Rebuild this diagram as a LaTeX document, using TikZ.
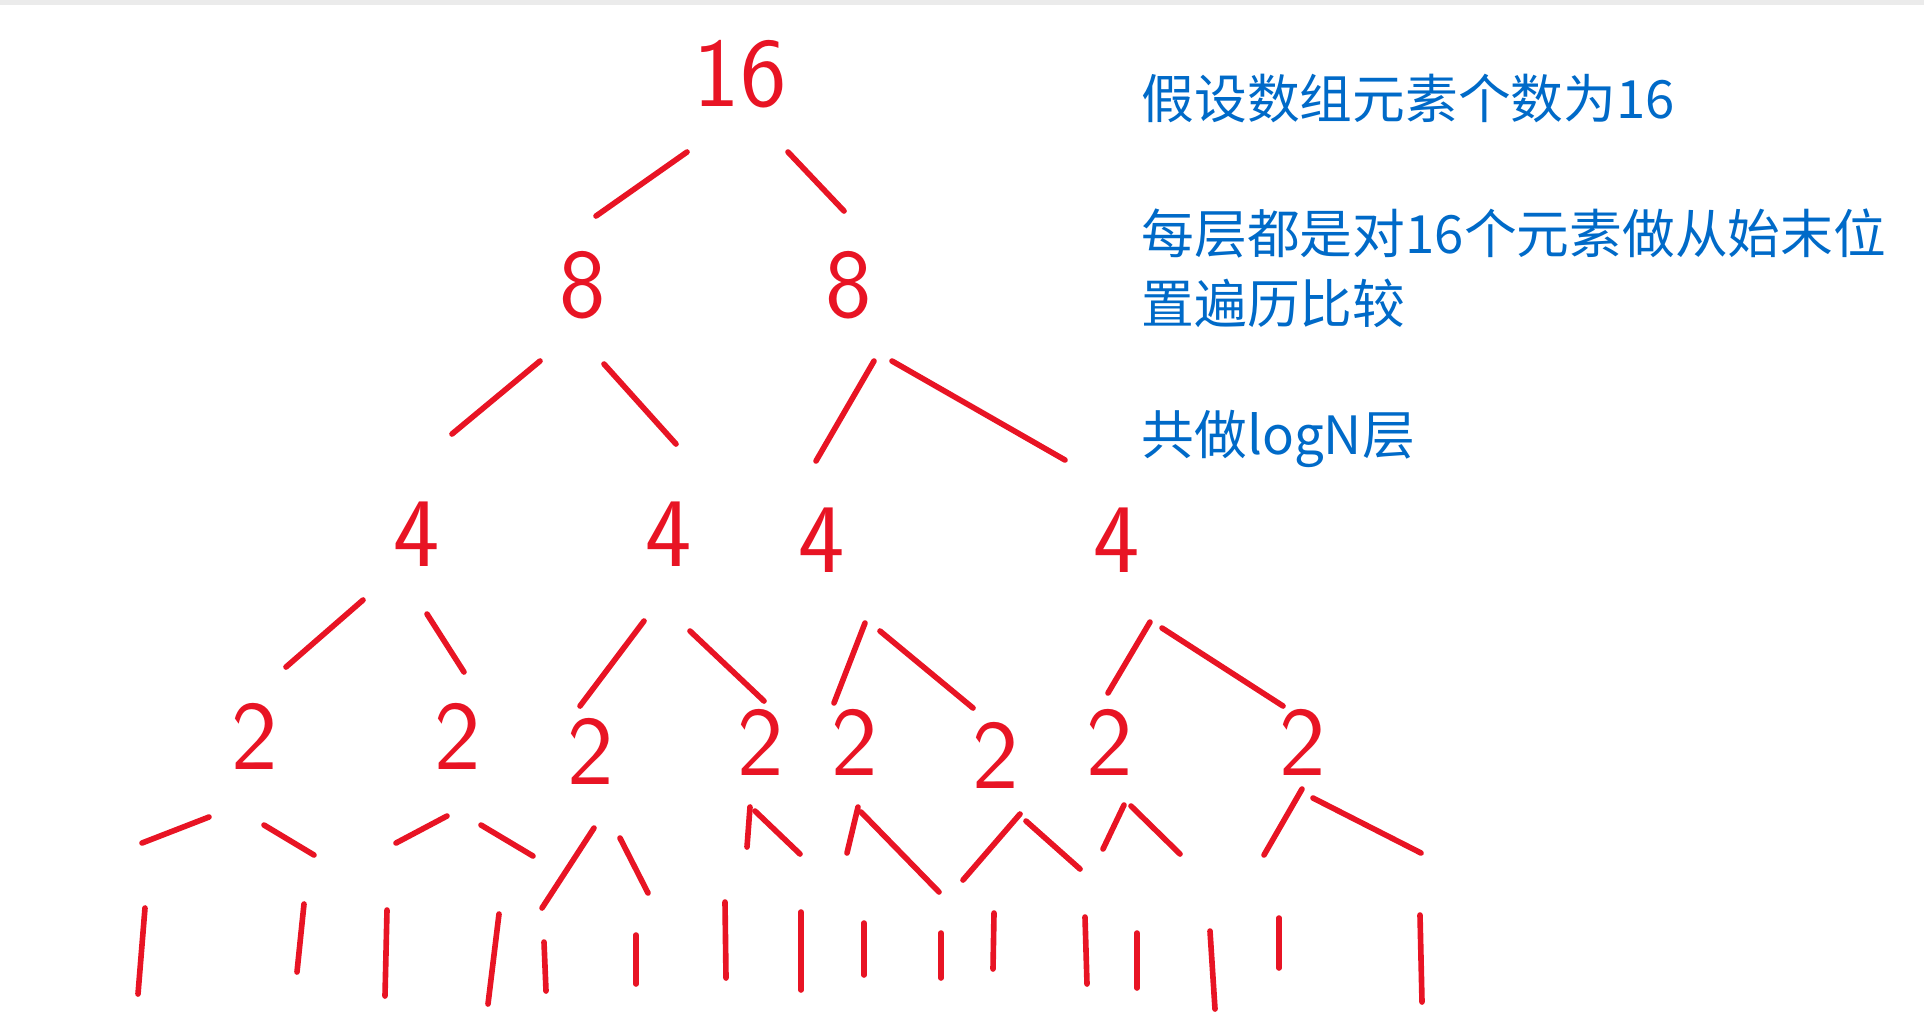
\documentclass[tikz,border=0pt]{standalone}
\usepackage{fontspec}
\usepackage{tikz}
\usetikzlibrary{calc}
\newfontfamily\cjk{Noto Sans CJK SC}
\definecolor{pen}{RGB}{232,20,36}
\definecolor{note}{RGB}{0,106,200}
\tikzset{
  num/.style={text=pen, inner sep=0pt, font=\sffamily\fontsize{28}{30}\selectfont},
  stroke/.style={draw=pen, line width=1.6pt, line cap=round, line join=round},
  remark/.style={text=note, inner sep=0pt, anchor=west, align=left,
    font=\cjk\fontsize{15}{20}\selectfont}
}

\begin{document}
\begin{tikzpicture}[x=0.01cm, y=-0.01cm]
			%%%%% START %%%%%
			\useasboundingbox (0, 0) rectangle (1924, 1032);
			\draw[black!8, line width=2pt] (0, 1) -- (1924, 1);
			
			% numbers
			\node[num] (n16) at (740, 74) {16};
			\node[num] (n8a) at (583, 285) {8};
			\node[num] (n8b) at (849, 285) {8};
			\node[num] (n4a) at (417, 534) {4};
			\node[num] (n4b) at (669, 534) {4};
			\node[num] (n4c) at (822, 540) {4};
			\node[num] (n4d) at (1117, 540) {4};
			\node[num] (n2a) at (255, 736) {2};
			\node[num] (n2b) at (458, 736) {2};
			\node[num] (n2c) at (591, 751) {2};
			\node[num] (n2d) at (761, 742) {2};
			\node[num] (n2e) at (855, 742) {2};
			\node[num] (n2f) at (996, 755) {2};
			\node[num] (n2g) at (1110, 742) {2};
			\node[num] (n2h) at (1303, 742) {2};
			
			% single elements
			\foreach \i/\x/\t/\b/\s in {1/145/908/994/-7, 2/304/904/972/-7, 3/387/910/996/-2,
			    4/499/914/1004/-11, 5/544/942/991/2, 6/636/935/984/0, 7/725/902/978/1,
			    8/801/912/990/0, 9/864/923/975/0, 10/941/933/978/0, 11/994/913/969/-1,
			    12/1085/917/984/2, 13/1137/933/988/0, 14/1210/931/1009/5, 15/1279/918/968/0,
			    16/1420/915/1002/2}{
				\coordinate (l\i) at (\x, \t);
				\draw[stroke] (l\i) -- ++(\s, {\b-\t});
			}
			
			% splits
			\foreach \a/\ax/\ay/\b/\bx/\by in {n16/-53/78/n8a/13/-69, n16/48/78/n8b/-5/-74,
			    n8a/-43/76/n4a/35/-100, n8a/21/79/n4b/7/-90,
			    n8b/25/76/n4c/-6/-79, n8b/43/76/n4d/-52/-80,
			    n4a/-54/66/n2a/31/-69, n4a/10/80/n2b/6/-64,
			    n4b/-25/87/n2c/-11/-45, n4b/21/97/n2d/3/-41,
			    n4c/43/83/n2e/-21/-39, n4c/58/91/n2f/-23/-47,
			    n4d/33/82/n2g/-2/-49, n4d/45/88/n2h/-20/-36,
			    n2a/-46/81/l1/-3/-65, n2a/9/89/l2/10/-49,
			    n2b/-11/80/l3/9/-67, n2b/23/89/l4/34/-58,
			    n2c/3/77/l5/-2/-34, n2c/29/87/l6/12/-42,
			    n2d/-11/65/l7/22/-55, n2d/-6/69/l8/-1/-58,
			    n2e/3/65/l9/-17/-70, n2e/6/70/l10/-2/-41,
			    n2f/24/59/l11/-31/-33, n2f/30/66/l12/-5/-48,
			    n2g/14/63/l13/-34/-84, n2g/21/64/l14/-30/-77,
			    n2h/-1/47/l15/-15/-63, n2h/10/56/l16/1/-62}{
				\draw[stroke] ($(\a)+(\ax, \ay)$) -- ($(\b)+(\bx, \by)$);
			}
			
			% notes
			\node[remark] (t1) at (1141, 98) {假设数组元素个数为16};
			\node[remark] (t2) at (1141, 268) {每层都是对16个元素做从始末位\\置遍历比较};
			\node[remark] (t3) at (1141, 439) {共做logN层};
			
			%%%%% END %%%%%
\end{tikzpicture}
\end{document}
